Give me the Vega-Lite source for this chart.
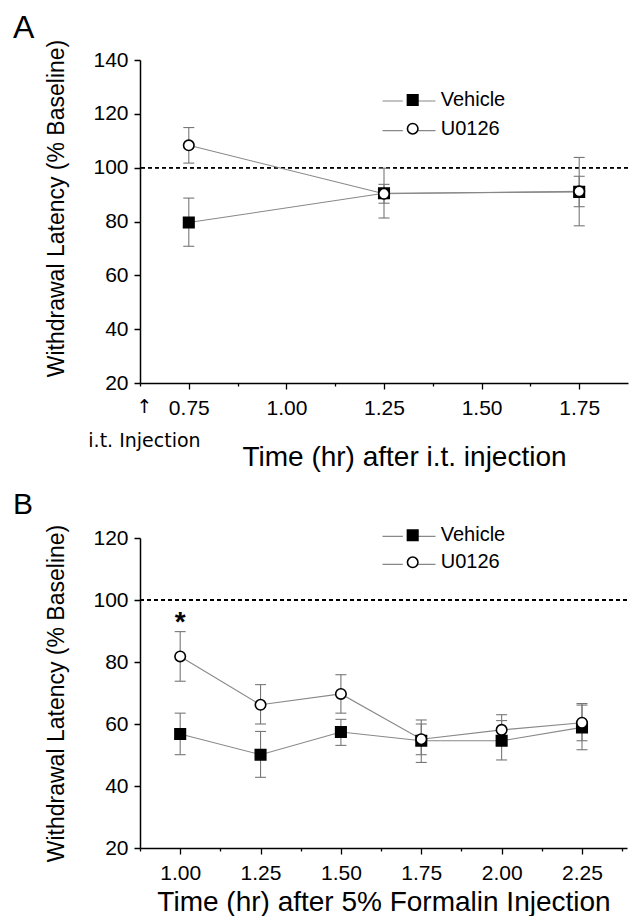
{
  "$schema": "https://vega.github.io/schema/vega-lite/v6.json",
  "background": "white",
  "padding": {"left": 13, "top": 12, "right": 0, "bottom": 0},
  "spacing": 19,
  "resolve": {
    "scale": {"shape": "independent", "fill": "independent", "stroke": "independent"},
    "legend": {"shape": "independent", "fill": "independent", "stroke": "independent"}
  },
  "config": {
    "font": "Liberation Sans",
    "view": {"stroke": null},
    "axis": {"grid": false, "domainColor": "black", "domainWidth": 1.5, "tickColor": "black", "tickWidth": 1.3, "tickSize": 6, "labelColor": "black", "labelFontSize": 21, "labelPadding": 8, "titleColor": "black", "titleFontWeight": "normal", "labelFlush": false, "labelOverlap": false},
    "axisY": {"labelPadding": 6},
    "legend": {"padding": 0, "labelColor": "black", "labelFontSize": 20},
    "title": {"color": "black", "fontWeight": "normal", "anchor": "start", "frame": "group"}
  },
  "datasets": {
    "panelA": [
      {"time": 0.75, "group": "Vehicle", "mean": 79.6, "lo": 70.8, "hi": 88.7},
      {"time": 1.25, "group": "Vehicle", "mean": 90.5, "lo": 81.3, "hi": 99.8},
      {"time": 1.75, "group": "Vehicle", "mean": 91.0, "lo": 85.5, "hi": 96.8},
      {"time": 0.75, "group": "U0126", "mean": 108.3, "lo": 101.7, "hi": 114.9},
      {"time": 1.25, "group": "U0126", "mean": 90.3, "lo": 86.8, "hi": 93.8},
      {"time": 1.75, "group": "U0126", "mean": 91.2, "lo": 78.4, "hi": 103.8}
    ],
    "panelB": [
      {"time": 1.0, "group": "Vehicle", "mean": 56.8, "lo": 50.1, "hi": 63.5},
      {"time": 1.25, "group": "Vehicle", "mean": 50.1, "lo": 42.8, "hi": 57.6},
      {"time": 1.5, "group": "Vehicle", "mean": 57.4, "lo": 53.1, "hi": 61.5},
      {"time": 1.75, "group": "Vehicle", "mean": 54.6, "lo": 47.6, "hi": 61.3},
      {"time": 2.0, "group": "Vehicle", "mean": 54.6, "lo": 48.4, "hi": 61.1},
      {"time": 2.25, "group": "Vehicle", "mean": 58.9, "lo": 51.7, "hi": 66.1},
      {"time": 1.0, "group": "U0126", "mean": 81.8, "lo": 73.8, "hi": 89.8, "sig": "*"},
      {"time": 1.25, "group": "U0126", "mean": 66.2, "lo": 60.0, "hi": 72.7},
      {"time": 1.5, "group": "U0126", "mean": 69.7, "lo": 63.5, "hi": 75.9},
      {"time": 1.75, "group": "U0126", "mean": 55.1, "lo": 50.1, "hi": 60.0},
      {"time": 2.0, "group": "U0126", "mean": 58.1, "lo": 53.1, "hi": 63.0},
      {"time": 2.25, "group": "U0126", "mean": 60.4, "lo": 54.6, "hi": 66.6}
    ]
  },
  "vconcat": [
    {
      "title": {"text": "A", "fontSize": 32, "dx": -127, "offset": -6},
      "width": 488,
      "height": 323,
      "data": {"name": "panelA"},
      "layer": [
        {
          "mark": {"type": "rule", "color": "black", "strokeDash": [4, 3], "strokeWidth": 1.2},
          "encoding": {"y": {"datum": 100, "type": "quantitative", "scale": {"domain": [20, 140], "nice": false, "zero": false}}}
        },
        {
          "mark": {"type": "rule", "color": "#777777", "strokeWidth": 1.1},
          "encoding": {
            "x": {"field": "time", "type": "quantitative", "scale": {"domain": [0.625, 1.875], "nice": false, "zero": false}},
            "y": {"field": "lo", "type": "quantitative", "scale": {"domain": [20, 140], "nice": false, "zero": false}},
            "y2": {"field": "hi"}
          }
        },
        {
          "mark": {"type": "tick", "orient": "horizontal", "color": "#777777", "size": 11, "thickness": 1.1, "opacity": 1},
          "encoding": {
            "x": {"field": "time", "type": "quantitative", "scale": {"domain": [0.625, 1.875], "nice": false, "zero": false}},
            "y": {"field": "lo", "type": "quantitative", "scale": {"domain": [20, 140], "nice": false, "zero": false}}
          }
        },
        {
          "mark": {"type": "tick", "orient": "horizontal", "color": "#777777", "size": 11, "thickness": 1.1, "opacity": 1},
          "encoding": {
            "x": {"field": "time", "type": "quantitative", "scale": {"domain": [0.625, 1.875], "nice": false, "zero": false}},
            "y": {"field": "hi", "type": "quantitative", "scale": {"domain": [20, 140], "nice": false, "zero": false}}
          }
        },
        {
          "mark": {"type": "line", "strokeWidth": 1.1},
          "encoding": {
            "x": {
              "field": "time", "type": "quantitative",
              "scale": {"domain": [0.625, 1.875], "nice": false, "zero": false},
              "axis": {
                "title": "Time (hr) after i.t. injection", "titleFontSize": 28, "titleBaseline": "alphabetic", "titleY": 82, "titleX": 264,
                "values": [0.625, 0.75, 0.875, 1, 1.125, 1.25, 1.375, 1.5, 1.625, 1.75],
                "labelExpr": "datum.value < 0.7 ? ['↑', 'i.t. Injection'] : (abs(datum.value * 4 - round(datum.value * 4)) < 0.001 ? format(datum.value, '.2f') : '')",
                "labelPadding": 8,
                "labelLineHeight": 34,
                "labelFont": {"condition": {"test": "datum.value < 0.7", "value": "DejaVu Sans"}, "value": "Liberation Sans"},
                "labelFontSize": {"condition": {"test": "datum.value < 0.7", "value": 19}, "value": 21},
                "labelOffset": {"condition": {"test": "datum.value < 0.7", "value": 4}, "value": 0},
                "tickDash": {"condition": {"test": "datum.value < 0.7 || abs(datum.value * 4 - round(datum.value * 4)) > 0.001", "value": [3, 20]}, "value": [1, 0]}
              }
            },
            "y": {
              "field": "mean", "type": "quantitative",
              "scale": {"domain": [20, 140], "nice": false, "zero": false},
              "axis": {
                "title": "Withdrawal Latency (% Baseline)", "titleFontSize": 23, "titlePadding": 24, "titleY": 148,
                "values": [20, 30, 40, 50, 60, 70, 80, 90, 100, 110, 120, 130, 140],
                "labelExpr": "datum.value % 20 == 0 ? datum.label : ''",
                "tickDash": {"condition": {"test": "datum.value % 20 != 0", "value": [3, 20]}, "value": [1, 0]}
              }
            },
            "stroke": {
              "field": "group", "type": "nominal",
              "scale": {"domain": ["U0126", "Vehicle"], "range": ["#888888", "#888888"]},
              "legend": {"orient": "none", "legendX": 258, "legendY": 30, "title": null, "symbolType": "M-2.65,0H-0.62M0.62,0H2.65", "symbolSize": 400, "symbolStrokeWidth": 1.2, "labelExpr": "''", "labelFontSize": 20, "rowPadding": 8.7}
            }
          }
        },
        {
          "mark": {"type": "point", "filled": true, "opacity": 1, "stroke": "black", "strokeWidth": 1.6, "size": 110},
          "encoding": {
            "x": {"field": "time", "type": "quantitative", "scale": {"domain": [0.625, 1.875], "nice": false, "zero": false}},
            "y": {"field": "mean", "type": "quantitative", "scale": {"domain": [20, 140], "nice": false, "zero": false}},
            "shape": {
              "field": "group", "type": "nominal",
              "scale": {"domain": ["Vehicle", "U0126"], "range": ["square", "circle"]},
              "legend": {"orient": "none", "legendX": 262.7, "legendY": 30, "title": null, "symbolSize": 110, "symbolStrokeWidth": 1.6, "symbolOpacity": 1, "labelOffset": 18, "labelFontSize": 20, "rowPadding": 8.7}
            },
            "fill": {
              "field": "group", "type": "nominal",
              "scale": {"domain": ["Vehicle", "U0126"], "range": ["black", "white"]},
              "legend": {"orient": "none", "legendX": 262.7, "legendY": 30, "title": null, "symbolSize": 110, "symbolStrokeWidth": 1.6, "symbolOpacity": 1, "labelOffset": 18, "labelFontSize": 20, "rowPadding": 8.7}
            }
          }
        }
      ]
    },
    {
      "title": {"text": "B", "fontSize": 30, "dx": -127, "offset": 4},
      "width": 487,
      "height": 310,
      "data": {"name": "panelB"},
      "layer": [
        {
          "mark": {"type": "rule", "color": "black", "strokeDash": [4, 3], "strokeWidth": 1.2},
          "encoding": {"y": {"datum": 100, "type": "quantitative", "scale": {"domain": [20, 120], "nice": false, "zero": false}}}
        },
        {
          "mark": {"type": "rule", "color": "#777777", "strokeWidth": 1.1},
          "encoding": {
            "x": {"field": "time", "type": "quantitative", "scale": {"domain": [0.875, 2.39], "nice": false, "zero": false}},
            "y": {"field": "lo", "type": "quantitative", "scale": {"domain": [20, 120], "nice": false, "zero": false}},
            "y2": {"field": "hi"}
          }
        },
        {
          "mark": {"type": "tick", "orient": "horizontal", "color": "#777777", "size": 11, "thickness": 1.1, "opacity": 1},
          "encoding": {
            "x": {"field": "time", "type": "quantitative", "scale": {"domain": [0.875, 2.39], "nice": false, "zero": false}},
            "y": {"field": "lo", "type": "quantitative", "scale": {"domain": [20, 120], "nice": false, "zero": false}}
          }
        },
        {
          "mark": {"type": "tick", "orient": "horizontal", "color": "#777777", "size": 11, "thickness": 1.1, "opacity": 1},
          "encoding": {
            "x": {"field": "time", "type": "quantitative", "scale": {"domain": [0.875, 2.39], "nice": false, "zero": false}},
            "y": {"field": "hi", "type": "quantitative", "scale": {"domain": [20, 120], "nice": false, "zero": false}}
          }
        },
        {
          "mark": {"type": "line", "strokeWidth": 1.1},
          "encoding": {
            "x": {
              "field": "time", "type": "quantitative",
              "scale": {"domain": [0.875, 2.39], "nice": false, "zero": false},
              "axis": {
                "title": "Time (hr) after 5% Formalin Injection", "titleFontSize": 28, "titleBaseline": "alphabetic", "titleY": 62,
                "values": [0.875, 1, 1.125, 1.25, 1.375, 1.5, 1.625, 1.75, 1.875, 2, 2.125, 2.25, 2.375],
                "labelPadding": 8,
                "labelExpr": "abs(datum.value * 4 - round(datum.value * 4)) < 0.001 ? format(datum.value, '.2f') : ''",
                "tickDash": {"condition": {"test": "abs(datum.value * 4 - round(datum.value * 4)) > 0.001", "value": [3, 20]}, "value": [1, 0]}
              }
            },
            "y": {
              "field": "mean", "type": "quantitative",
              "scale": {"domain": [20, 120], "nice": false, "zero": false},
              "axis": {
                "title": "Withdrawal Latency (% Baseline)", "titleFontSize": 23, "titlePadding": 24,
                "values": [20, 30, 40, 50, 60, 70, 80, 90, 100, 110, 120],
                "labelExpr": "datum.value % 20 == 0 ? datum.label : ''",
                "tickDash": {"condition": {"test": "datum.value % 20 != 0", "value": [3, 20]}, "value": [1, 0]}
              }
            },
            "stroke": {
              "field": "group", "type": "nominal",
              "scale": {"domain": ["U0126", "Vehicle"], "range": ["#888888", "#888888"]},
              "legend": {"orient": "none", "legendX": 258, "legendY": -12.7, "title": null, "symbolType": "M-2.65,0H-0.62M0.62,0H2.65", "symbolSize": 400, "symbolStrokeWidth": 1.2, "labelExpr": "''", "labelFontSize": 20, "rowPadding": 7}
            }
          }
        },
        {
          "mark": {"type": "point", "filled": true, "opacity": 1, "stroke": "black", "strokeWidth": 1.6, "size": 110},
          "encoding": {
            "x": {"field": "time", "type": "quantitative", "scale": {"domain": [0.875, 2.39], "nice": false, "zero": false}},
            "y": {"field": "mean", "type": "quantitative", "scale": {"domain": [20, 120], "nice": false, "zero": false}},
            "shape": {
              "field": "group", "type": "nominal",
              "scale": {"domain": ["Vehicle", "U0126"], "range": ["square", "circle"]},
              "legend": {"orient": "none", "legendX": 262.7, "legendY": -12.7, "title": null, "symbolSize": 110, "symbolStrokeWidth": 1.6, "symbolOpacity": 1, "labelOffset": 18, "labelFontSize": 20, "rowPadding": 7}
            },
            "fill": {
              "field": "group", "type": "nominal",
              "scale": {"domain": ["Vehicle", "U0126"], "range": ["black", "white"]},
              "legend": {"orient": "none", "legendX": 262.7, "legendY": -12.7, "title": null, "symbolSize": 110, "symbolStrokeWidth": 1.6, "symbolOpacity": 1, "labelOffset": 18, "labelFontSize": 20, "rowPadding": 7}
            }
          }
        },
        {
          "transform": [{"filter": "datum.sig == '*'"}],
          "mark": {"type": "text", "fontSize": 28, "fontWeight": "bold", "color": "black", "baseline": "alphabetic", "dy": -1},
          "encoding": {
            "x": {"field": "time", "type": "quantitative", "scale": {"domain": [0.875, 2.39], "nice": false, "zero": false}},
            "y": {"field": "hi", "type": "quantitative", "scale": {"domain": [20, 120], "nice": false, "zero": false}},
            "text": {"field": "sig"}
          }
        }
      ]
    }
  ]
}
